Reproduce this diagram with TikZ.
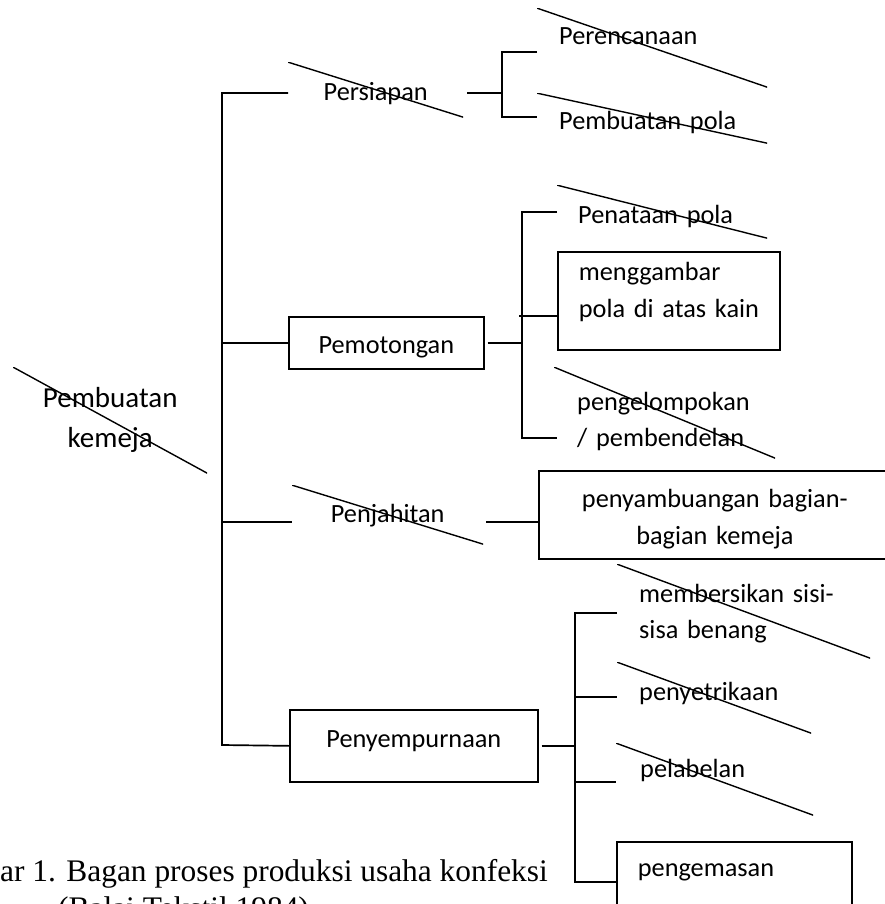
\documentclass[tikz,border=0pt]{standalone}
\usepackage{fontspec}
\setmainfont{Carlito}
\newfontfamily\captionserif{Liberation Serif}
\usepackage{tikz}
\newcommand\stepfont{\fontsize{26.3}{36.5}\selectfont}
\newcommand\rootfont{\fontsize{29}{40}\selectfont}
\tikzset{
  link/.style={line width=1.7pt,draw=black},
  slash/.style={line width=1.4pt,draw=black},
  slashbox/.style={rectangle,inner xsep=0pt,inner ysep=0pt,font=\stepfont,
    path picture={\draw[slash] (path picture bounding box.north west) -- (path picture bounding box.south east);}},
  framebox/.style={rectangle,draw=black,line width=1.7pt,inner xsep=0pt,inner ysep=0pt,font=\stepfont},
  inset/.style={align=left,execute at begin node={\leftskip=#1\relax}},
  inset/.default=22pt,
  captiontext/.style={inner sep=0pt,font=\fontsize{31.4}{36}\captionserif}
}
\begin{document}
\begin{tikzpicture}[x=1pt,y=-1pt]
\useasboundingbox (0,0) rectangle (885,904);
\clip (0,0) rectangle (885,904);
% root
\node[slashbox,font=\rootfont,anchor=north west,text width=194pt,align=center,
  text height=40pt,text depth=66pt] (root) at (13,367) {Pembuatan\\kemeja};
% main steps
\node[slashbox,anchor=north west,text width=175pt,align=center,
  text height=38pt,text depth=17pt] (persiapan) at (288,62) {Persiapan};
\node[framebox,anchor=north west,text width=195pt,align=center,
  text height=37pt,text depth=15pt] (pemotongan) at (288,316) {Pemotongan};
\node[slashbox,anchor=north west,text width=191pt,align=center,
  text height=37pt,text depth=22pt] (penjahitan) at (292,485) {Penjahitan};
\node[framebox,anchor=north west,text width=248pt,align=center,
  text height=38pt,text depth=34pt] (penyempurnaan) at (289,709) {Penyempurnaan};
% persiapan
\node[slashbox,inset,anchor=north west,text width=230pt,
  text height=36pt,text depth=43pt] (perencanaan) at (537,8) {Perencanaan};
\node[slashbox,inset,anchor=north west,text width=230pt,
  text height=36pt,text depth=14pt] (pembuatanpola) at (537,93) {Pembuatan pola};
% pemotongan
\node[slashbox,inset=21pt,anchor=north west,text width=210pt,
  text height=38pt,text depth=15pt] (penataan) at (557,185) {Penataan pola};
\node[framebox,inset=21pt,anchor=north west,text width=222pt,
  text height=29pt,text depth=69pt] (menggambar) at (557,251) {menggambar\\pola di atas kain};
\node[slashbox,inset=23pt,anchor=north west,text width=221pt,
  text height=43pt,text depth=48pt] (pengelompokan) at (554,367) {pengelompokan\\/ pembendelan};
% penjahitan
\node[framebox,anchor=north west,text width=352pt,align=center,
  text height=37pt,text depth=51pt] (penyambungan) at (538,470) {penyambuangan bagian-\\bagian kemeja};
% penyempurnaan
\node[slashbox,inset,anchor=north west,text width=253pt,
  text height=38pt,text depth=56pt] (membersikan) at (617,564) {membersikan sisi-\\sisa benang};
\node[slashbox,inset,anchor=north west,text width=194pt,
  text height=38pt,text depth=33pt] (penyetrikaan) at (617,662) {penyetrikaan};
\node[slashbox,inset=24pt,anchor=north west,text width=197pt,
  text height=34pt,text depth=38pt] (pelabelan) at (616,743) {pelabelan};
\node[framebox,inset=21pt,anchor=north west,text width=235pt,
  text height=35pt,text depth=54pt] (pengemasan) at (616,841) {pengemasan};
% forks
\coordinate (spinetop) at (222,93);
\coordinate (spinebot) at (222,745);
\coordinate (sewjoin) at (222,522);
\coordinate (planup) at (502,52);
\coordinate (plandown) at (502,117);
\coordinate (prepjoin) at (502,93);
\coordinate (cutup) at (522,212);
\coordinate (cutdown) at (522,438);
\coordinate (drawjoin) at (519,316);
\coordinate (finup) at (575,613);
\coordinate (findown) at (575,882);
\coordinate (ironjoin) at (575,697);
\coordinate (labeljoin) at (575,782);
% spine
\draw[link] (spinetop -| persiapan.west) -- (spinetop) -- (spinebot) -- (penyempurnaan.west);
\draw[link] (spinetop |- pemotongan.west) -- (pemotongan.west);
\draw[link] (sewjoin) -- (sewjoin -| penjahitan.west);
% persiapan branch
\draw[link] ([xshift=4pt]persiapan.east |- prepjoin) -- (prepjoin);
\draw[link] (planup -| perencanaan.west) -- (planup) -- (plandown) -- (plandown -| pembuatanpola.west);
% pemotongan branch
\draw[link] ([xshift=3pt]pemotongan.east) -- (pemotongan.east -| cutup);
\draw[link] (cutup -| penataan.west) -- (cutup) -- (cutdown) -- (cutdown -| penataan.west);
\draw[link] (drawjoin) -- (drawjoin -| menggambar.west);
% penjahitan branch
\draw[link] ([xshift=3pt]penjahitan.east |- sewjoin) -- (sewjoin -| penyambungan.west);
% penyempurnaan branch
\draw[link] ([xshift=3pt]penyempurnaan.east) -- (penyempurnaan.east -| finup);
\draw[link] (finup -| membersikan.west) -- (finup) -- (findown) -- (findown -| pengemasan.west);
\draw[link] (ironjoin) -- (ironjoin -| penyetrikaan.west);
\draw[link] (labeljoin) -- (labeljoin -| pelabelan.west);
% caption
\node[captiontext,anchor=base west] (caption) at (0,881) {ar 1. Bagan proses produksi usaha konfeksi};
\node[captiontext,anchor=base west] (source) at (58,918) {(Balai Tekstil 1984)};
\end{tikzpicture}
\end{document}
